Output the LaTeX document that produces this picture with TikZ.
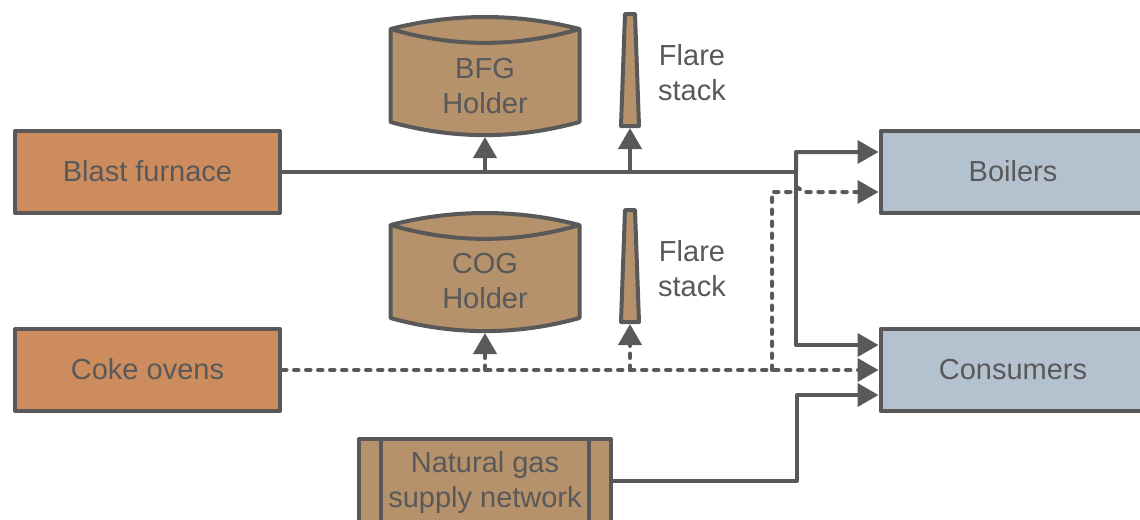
\documentclass[tikz,border=0pt]{standalone}
\usepackage{fontspec}
\setmainfont{Liberation Sans}
\usetikzlibrary{arrows.meta}
\definecolor{linegray}{HTML}{595959}
\definecolor{plantfill}{HTML}{CC8C5E}
\definecolor{storefill}{HTML}{B5926B}
\definecolor{userfill}{HTML}{B4C2D0}
\begin{document}
\begin{tikzpicture}[
    every node/.style={text=linegray,font=\fontsize{16.5}{19.9}\selectfont,align=center},
    box/.style={draw=linegray,line width=0.08cm,rectangle,minimum width=5.3cm,minimum height=1.64cm,line join=round,text depth=1.1pt},
    holderbox/.style={draw=linegray,line width=0.08cm,fill=storefill,line join=round},
    holdertext/.style={minimum width=3.78cm,minimum height=1.94cm,inner sep=0pt,outer sep=0.04cm},
    stack/.style={minimum width=0.36cm,minimum height=2.24cm,inner sep=0pt,outer sep=0pt},
    gasline/.style={draw=linegray,line width=0.08cm,line join=round},
    dotline/.style={gasline,line cap=round,dash pattern=on 0.09cm off 0.15cm},
    tip/.style={-{Triangle[length=0.42cm,width=0.46cm,color=linegray]}}
]
    \useasboundingbox (0,0) rectangle (22.8,10.38);

    % Plants on the left
    \node[box,fill=plantfill] (blast) at (2.95,6.94) {Blast furnace};
    \node[box,fill=plantfill] (coke) at (2.95,2.98) {Coke ovens};

    % Users on the right
    \node[box,fill=userfill] (boilers) at (20.26,6.94) {Boilers};
    \node[box,fill=userfill] (consumers) at (20.26,2.98) {Consumers};

    % Gas holders
    \begin{scope}[shift={(9.7,8.86)}]
        \draw[holderbox] (-1.89,0.94) .. controls (-0.63,1.26) and (0.63,1.26) .. (1.89,0.94) -- (1.89,-0.92) .. controls (0.63,-1.27) and (-0.63,-1.27) .. (-1.89,-0.92) -- cycle;
        \draw[holderbox,fill=none] (-1.89,0.94) .. controls (-0.63,0.57) and (0.63,0.57) .. (1.89,0.94);
        \node[holdertext] (bfg) at (0,-0.21) {BFG\\Holder};
    \end{scope}
    \begin{scope}[shift={(9.7,4.94)}]
        \draw[holderbox] (-1.89,0.94) .. controls (-0.63,1.26) and (0.63,1.26) .. (1.89,0.94) -- (1.89,-0.92) .. controls (0.63,-1.27) and (-0.63,-1.27) .. (-1.89,-0.92) -- cycle;
        \draw[holderbox,fill=none] (-1.89,0.94) .. controls (-0.63,0.57) and (0.63,0.57) .. (1.89,0.94);
        \node[holdertext,minimum height=2cm] (cog) at (0,-0.18) {COG\\Holder};
    \end{scope}

    % Flare stacks
    \node[stack] (flareone) at (12.6,8.98) {};
    \node[stack] (flaretwo) at (12.6,5.06) {};
    \draw[holderbox] (flareone.south west) -- ([xshift=0.08cm]flareone.north west) -- ([xshift=-0.08cm]flareone.north east) -- (flareone.south east) -- cycle;
    \draw[holderbox] (flaretwo.south west) -- ([xshift=0.08cm]flaretwo.north west) -- ([xshift=-0.08cm]flaretwo.north east) -- (flaretwo.south east) -- cycle;
    \node (flareonetext) at (13.84,8.93) {Flare\\stack};
    \node (flaretwotext) at (13.84,5.01) {Flare\\stack};

    % Natural gas network
    \node[box,fill=storefill,minimum width=5.04cm,minimum height=1.74cm,text depth=] (gas) at (9.7,0.73) {Natural gas\\supply network};
    \draw[gasline] ([xshift=0.48cm]gas.north west) -- ([xshift=0.48cm]gas.south west);
    \draw[gasline] ([xshift=-0.48cm]gas.north east) -- ([xshift=-0.48cm]gas.south east);

    % Routing points
    \coordinate (bus) at (15.92,6.94);
    \coordinate (bustop) at (15.92,7.34);
    \coordinate (busbottom) at (15.92,3.48);
    \coordinate (cogx) at (15.44,2.98);
    \coordinate (gasx) at (15.94,0.76);

    % BFG connections
    \draw[gasline] (blast.east) -- (bus);
    \draw[gasline,tip] (bfg.south |- blast.east) -- (bfg.south);
    \draw[gasline,tip,shorten >=0.04cm] (flareone.south |- blast.east) -- (flareone.south);
    \draw[gasline,tip] (bus) -- (bustop) -- ([yshift=0.4cm]boilers.west);
    \draw[gasline,tip] (bus) -- (busbottom) -- ([yshift=0.5cm]consumers.west);

    % COG connections
    \draw[dotline,tip] (coke.east) -- (consumers.west);
    \draw[dotline,tip] (cog.south |- coke.east) -- (cog.south);
    \draw[dotline,tip,shorten >=0.04cm] (flaretwo.south |- coke.east) -- (flaretwo.south);
    \draw[dotline,tip] (cogx) |- (15.82,6.54) .. controls (15.92,6.67) .. (16.06,6.54) -- ([yshift=-0.4cm]boilers.west);

    % Natural gas connection
    \draw[gasline,tip] (gas.east |- gasx) -- (gasx) |- ([yshift=-0.5cm]consumers.west);
\end{tikzpicture}
\end{document}
